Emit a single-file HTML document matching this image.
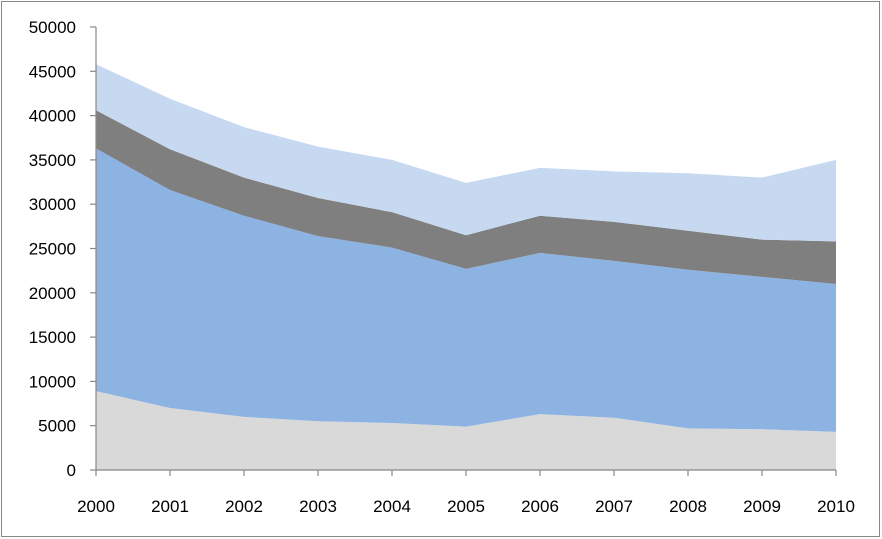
<!DOCTYPE html>
<html><head><meta charset="utf-8"><style>
body{margin:0;background:#fff;}
svg{display:block;font-family:"Liberation Sans",sans-serif;}
</style></head><body>
<svg id="chart" width="882" height="539" viewBox="0 0 882 539">
<rect x="1.5" y="1.5" width="878" height="535" fill="#fff" stroke="#888" stroke-width="1"/>
<g id="areas"></g>
<g id="axes"></g>
</svg>
<script>
const years = ["2000","2001","2002","2003","2004","2005","2006","2007","2008","2009","2010"];
const series1 = [8900,7000,6000,5500,5300,4900,6300,5900,4700,4600,4300];
const series2 = [27400,24600,22700,20900,19800,17800,18200,17700,17900,17200,16700];
const series3 = [4300,4600,4300,4300,4000,3800,4200,4400,4400,4200,4800];
const series4 = [5200,5700,5700,5800,5900,5900,5400,5700,6500,7000,9200];
const yTicks = [0,5000,10000,15000,20000,25000,30000,35000,40000,45000,50000];
const colors = ["#d9d9d9","#8db3e2","#7f7f7f","#c6d9f1"];
const names = ["series-1-area","series-2-area","series-3-area","series-4-area"];

const x0=96, x1=836, yBase=470, yTop=27, yMax=50000;
const xs = i => x0 + i*(x1-x0)/(years.length-1);
const ys = v => yBase - v/yMax*(yBase-yTop);
const NS="http://www.w3.org/2000/svg";
const areas=document.getElementById('areas'), axes=document.getElementById('axes');

const all=[series1,series2,series3,series4];
let cum=years.map(()=>0);
all.forEach((s,k)=>{
  const lower=cum.slice();
  cum=cum.map((c,i)=>c+s[i]);
  let d="";
  cum.forEach((v,i)=>{d+=(i?"L":"M")+xs(i)+","+ys(v);});
  for(let i=years.length-1;i>=0;i--) d+="L"+xs(i)+","+ys(lower[i]);
  d+="Z";
  const p=document.createElementNS(NS,"path");
  
  
  p.setAttribute("d",d); p.setAttribute("fill",colors[k]);
  areas.appendChild(p);
});

function line(xa,ya,xb,yb,name){
  const l=document.createElementNS(NS,"line");
  
  
  l.setAttribute("x1",xa);l.setAttribute("y1",ya);l.setAttribute("x2",xb);l.setAttribute("y2",yb);
  l.setAttribute("stroke","#888");l.setAttribute("stroke-width","1.2");
  axes.appendChild(l);
}
function text(x,y,t,anchor,name){
  const e=document.createElementNS(NS,"text");
  
  
  e.setAttribute("x",x);e.setAttribute("y",y);e.setAttribute("text-anchor",anchor);
  e.setAttribute("font-size","17");e.setAttribute("fill","#000");
  e.textContent=t; axes.appendChild(e);
}
line(x0,yTop,x0,yBase,"y-axis-line");
line(x0,yBase,x1,yBase,"x-axis-line");
yTicks.forEach(v=>{
  line(x0-6,ys(v),x0,ys(v),"y-tick");
  text(76,ys(v)+6,String(v),"end","y-tick-label");
});
years.forEach((y,i)=>{
  line(xs(i),yBase,xs(i),yBase+6,"x-tick");
  text(xs(i),512,y,"middle","x-tick-label");
});
</script>
</body></html>
